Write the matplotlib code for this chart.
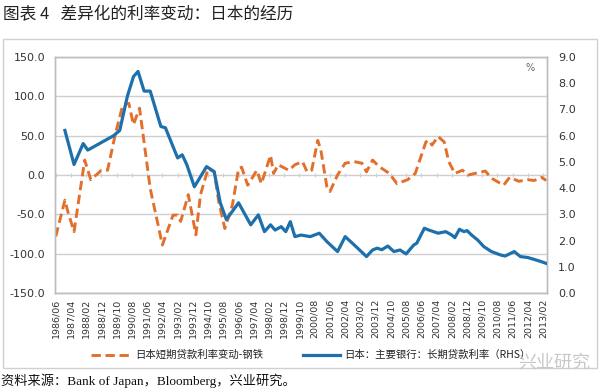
import matplotlib
matplotlib.use("Agg")
import matplotlib.pyplot as plt
from matplotlib.patches import Rectangle

plt.rcParams['font.family'] = ['DejaVu Sans', 'Noto Sans CJK SC']

# ---- data ----
tick_labels = ['1986/06', '1987/04', '1988/02', '1988/12', '1989/10', '1990/08', '1991/06',
               '1992/04', '1993/02', '1993/12', '1994/10', '1995/08', '1996/06', '1997/04',
               '1998/02', '1998/12', '1999/10', '2000/08', '2001/06', '2002/04', '2003/02',
               '2003/12', '2004/10', '2005/08', '2006/06', '2007/04', '2008/02', '2008/12',
               '2009/10', '2010/08', '2011/06', '2012/04', '2013/02']

spread_dates = ['1986/06', '1986/12', '1987/02', '1987/06', '1988/01', '1988/05', '1988/12',
                '1989/04', '1989/09', '1990/02', '1990/06', '1990/09', '1991/01', '1991/08',
                '1992/04', '1992/11', '1993/02', '1993/04', '1993/09', '1994/02', '1994/05',
                '1994/10', '1995/02', '1995/05', '1995/09', '1996/02', '1996/06', '1996/08',
                '1996/12', '1997/06', '1997/09', '1998/03', '1998/05', '1998/08', '1999/03',
                '1999/07', '1999/12', '2000/03', '2000/06', '2000/10', '2000/12', '2001/04',
                '2001/06', '2001/11', '2002/04', '2002/10', '2003/03', '2003/06', '2003/10',
                '2004/02', '2004/09', '2005/02', '2005/09', '2006/02', '2006/09', '2006/11',
                '2007/01', '2007/05', '2007/09', '2007/12', '2008/04', '2008/09', '2009/01',
                '2009/05', '2009/12', '2010/04', '2010/12', '2011/04', '2011/10', '2012/04',
                '2012/08', '2013/01', '2013/04']
spread_values = [-78, -32, -47, -72, 19, -6, 6,
                 6, 51, 89, 91, 64, 85, -17,
                 -89, -51, -51, -59, -25, -76, -25,
                 8, 4, -34, -68, -38, 8, 10,
                 -13, 6, -11, 25, 2, 13, 6,
                 13, 17, 4, 6, 44, 32, -15,
                 -21, 0, 15, 17, 15, 4, 19,
                 11, 2, -11, -6, 2, 42, 44,
                 38, 49, 42, 17, 2, 6, 0,
                 2, 5, -4, -13, -3, -8, -6,
                 -7, -3, -7]

loan_dates = ['1986/12', '1987/06', '1987/12', '1988/03', '1989/08', '1989/12', '1990/05',
              '1990/09', '1990/12', '1991/04', '1991/08', '1992/03', '1992/06', '1993/02',
              '1993/05', '1993/08', '1994/01', '1994/09', '1995/02', '1995/06', '1995/10',
              '1996/06', '1997/02', '1997/07', '1997/11', '1998/03', '1998/06', '1998/10',
              '1999/01', '1999/04', '1999/07', '1999/11', '2000/05', '2000/11', '2001/04',
              '2001/11', '2002/04', '2002/10', '2003/06', '2003/10', '2004/01', '2004/04',
              '2004/08', '2004/12', '2005/04', '2005/08', '2006/01', '2006/03', '2006/08',
              '2006/11', '2007/05', '2007/10', '2008/02', '2008/04', '2008/07', '2008/10',
              '2008/12', '2009/03', '2009/07', '2009/11', '2010/04', '2010/10', '2011/01',
              '2011/07', '2011/11', '2012/04', '2012/11', '2013/04']
loan_values = [6.2, 4.9, 5.7, 5.45, 6.0, 6.2, 7.5,
               8.25, 8.45, 7.7, 7.7, 6.35, 6.3, 5.15,
               5.27, 4.9, 4.05, 4.82, 4.63, 3.44, 2.8,
               3.44, 2.6, 2.98, 2.34, 2.6, 2.4, 2.53,
               2.34, 2.72, 2.15, 2.21, 2.15, 2.28, 1.96,
               1.58, 2.15, 1.83, 1.39, 1.64, 1.71, 1.65,
               1.79, 1.58, 1.64, 1.49, 1.83, 1.9, 2.47,
               2.4, 2.28, 2.34, 2.21, 2.11, 2.43, 2.34,
               2.38, 2.21, 2.02, 1.77, 1.58, 1.45, 1.41,
               1.58, 1.39, 1.35, 1.23, 1.13]

left_ticks = [150, 100, 50, 0, -50, -100, -150]
right_ticks = [9, 8, 7, 6, 5, 4, 3, 2, 1, 0]

title_text = '图表 4   差异化的利率变动：日本的经历'
legend_spread = '日本短期贷款利率变动-钢铁'
legend_loan = '日本：主要银行：长期贷款利率（RHS）'
source_text = '资料来源：Bank of Japan，Bloomberg，兴业研究。'


def month_index(s):
    y, m = s.split('/')
    return (int(y) - 1986) * 12 + int(m) - 6


W, H = 600, 392
fig = plt.figure(figsize=(W / 100, H / 100), dpi=100)
fig.patch.set_facecolor('white')

# outer chart frame
fig.add_artist(Rectangle((3 / W, 1 - 368 / H), 594 / W, 329 / H, transform=fig.transFigure,
                         fill=False, edgecolor='#d0d0d0', linewidth=1.0))

ax = fig.add_axes([55 / W, 1 - 293 / H, 492 / W, 236 / H])
ax2 = ax.twinx()

orange = '#E2702C'
blue = '#1E70AC'
grid_c = '#cfcfcf'
text_c = '#333333'

xs = [month_index(d) for d in spread_dates]
ax.plot(xs, spread_values, color=orange, lw=2.1, dashes=(3.2, 1.6), zorder=3)
xl = [month_index(d) for d in loan_dates]
ax2.plot(xl, loan_values, color=blue, lw=2.3, zorder=4, solid_joinstyle='round')

xt = [month_index(d) for d in tick_labels]
ax.set_xlim(-0.5, 322.5)
ax.set_ylim(-150, 150)
ax2.set_ylim(0, 9)

ax.set_yticks(left_ticks)
ax.set_yticklabels([f'{v:.1f}' for v in left_ticks], fontsize=8, color=text_c)
ax2.set_yticks(right_ticks)
ax2.set_yticklabels([f'{v:.1f}' for v in right_ticks], fontsize=8, color=text_c)
ax.set_xticks(xt)
ax.set_xticklabels(tick_labels, rotation=90, fontsize=6.8, color=text_c)

ax.tick_params(axis='y', length=0, pad=7)
ax2.tick_params(axis='y', length=0, pad=8)
ax.tick_params(axis='x', length=0, pad=4)

ax.grid(axis='y', color=grid_c, lw=1.0)
ax.set_axisbelow(True)
# category axis line at zero with small tick marks
ax.vlines(xt, -2.2, 2.2, color=grid_c, lw=0.8, zorder=1)

for a in (ax, ax2):
    for sp in a.spines.values():
        sp.set_color('#bdbdbd')
        sp.set_linewidth(1.0)

ax.text(0.965, 0.955, '%', transform=ax.transAxes, fontsize=7, color='#666666',
        ha='center', va='center')

# title
fig.text(3 / W, 1 - 15 / H, title_text, fontsize=12, color='#222222', ha='left', va='center',
         family=['Noto Sans CJK SC'])

# legend (manual, below tick labels)
ly = 1 - 355 / H
fig.add_artist(plt.Line2D([91 / W, 131 / W], [ly, ly], transform=fig.transFigure,
                          color=orange, lw=2.1, dashes=(3.2, 1.6)))
fig.text(135 / W, ly, legend_spread, fontsize=7.5, color='#222222', ha='left', va='center',
         family=['Noto Sans CJK SC'])
fig.add_artist(plt.Line2D([303 / W, 340 / W], [ly, ly], transform=fig.transFigure,
                          color=blue, lw=2.3))
fig.text(344 / W, ly, legend_loan, fontsize=7.5, color='#222222', ha='left', va='center',
         family=['Noto Sans CJK SC'])

# watermark
fig.text(590 / W, 1 - 362 / H, '兴业研究', fontsize=13, color='#c8c8c8', ha='right',
         va='center', family=['Noto Sans CJK SC'])

# source
fig.text(1 / W, 1 - 381 / H, source_text, fontsize=9.5, color='#111111', ha='left',
         va='center', family=['Liberation Serif', 'Noto Sans CJK SC'])

fig.savefig('out.png', dpi=100, facecolor='white')
